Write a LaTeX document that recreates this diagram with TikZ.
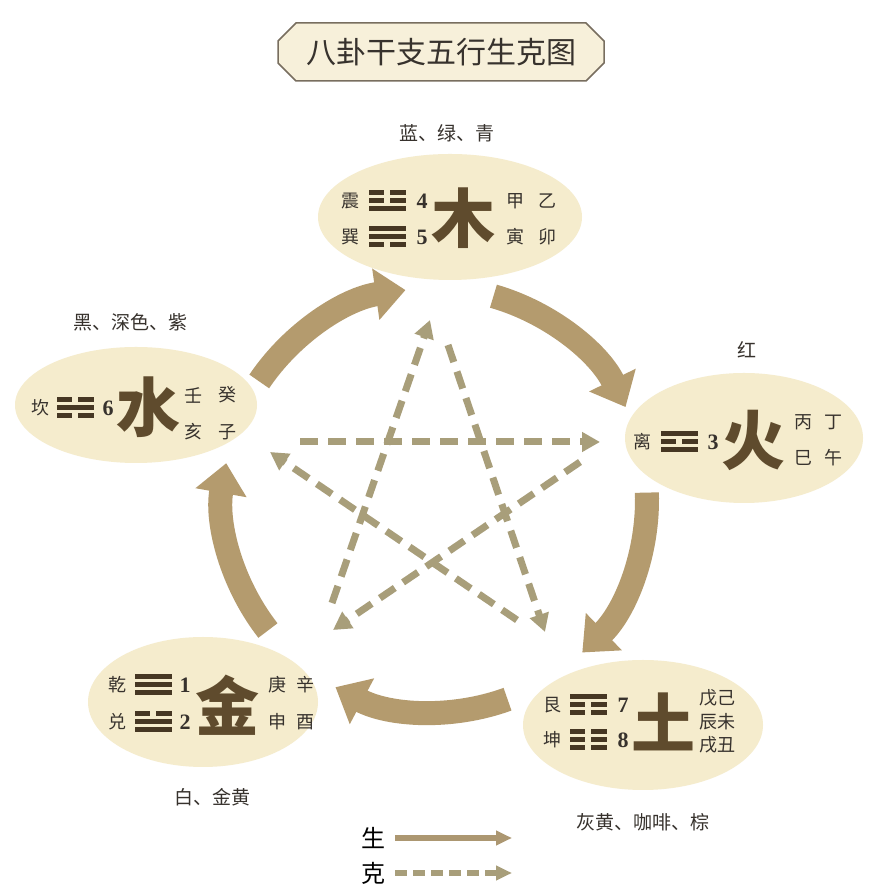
\documentclass[tikz,border=0pt]{standalone}
\usepackage{fontspec}
\setmainfont{Liberation Serif}
\newfontfamily\cjk{Noto Sans CJK SC}
\usetikzlibrary{arrows.meta,shapes.geometric,shapes.misc}

\definecolor{shengcol}{RGB}{180,155,110}
\definecolor{kecol}{RGB}{168,158,122}
\definecolor{cream}{RGB}{245,236,205}
\definecolor{guacol}{RGB}{70,55,35}
\definecolor{inkcol}{RGB}{55,50,45}
\definecolor{bigcol}{RGB}{95,75,45}

\newcommand{\fs}[1]{\fontsize{#1}{#1}\selectfont}
% trigram: x, y, bars from top (1 = solid, 0 = broken)
\newcommand{\gua}[3]{%
  \foreach \b [count=\i] in {#3} {
    \pgfmathsetmacro{\yy}{#2+16-8*\i}
    \ifnum\b=1
      \fill[guacol] (#1-18.5,\yy-2.5) rectangle (#1+18.5,\yy+2.5);
    \else
      \fill[guacol] (#1-18.5,\yy-2.5) rectangle (#1-3,\yy+2.5);
      \fill[guacol] (#1+3,\yy-2.5) rectangle (#1+18.5,\yy+2.5);
    \fi
  }}

\tikzset{
  element/.style={ellipse, fill=cream, inner sep=0pt},
  branch/.style={text=inkcol, inner sep=1pt, font=\cjk\fs{18}},
  bigchar/.style={text=bigcol, inner sep=1pt, font=\cjk\bfseries\fs{64}},
  guanum/.style={text=inkcol, inner sep=1pt, font=\bfseries\fs{22}},
  colourlabel/.style={text=inkcol, font=\cjk\fs{19}},
  sheng/.style={shengcol, line width=24pt, -{Triangle[length=30pt,width=50pt]}},
  ke/.style={kecol, line width=7pt, dash pattern=on 18pt off 10pt, -{Triangle[length=18pt,width=19pt]}}
}

\begin{document}
\begin{tikzpicture}[x=1pt, y=1pt]
  \fill[white] (0,0) rectangle (872,896);
  \useasboundingbox (0,0) rectangle (872,896);

  % title
  \node[chamfered rectangle, chamfered rectangle xsep=9pt, chamfered rectangle ysep=9pt,
        draw={rgb,255:red,120;green,110;blue,95}, line width=1.5pt,
        fill={rgb,255:red,247;green,240;blue,218},
        minimum width=326pt, minimum height=58pt, inner sep=0pt,
        text=inkcol, font=\cjk\fs{30}] (title) at (441,844) {八卦干支五行生克图};

  % the five elements
  \node[element, minimum width=264pt, minimum height=126pt] (mu) at (450,679) {};
  \node[element, minimum width=242pt, minimum height=116pt] (shui) at (136,491) {};
  \node[element, minimum width=238pt, minimum height=130pt] (huo) at (744,458) {};
  \node[element, minimum width=230pt, minimum height=130pt] (jin) at (203,194) {};
  \node[element, minimum width=240pt, minimum height=130pt] (tu) at (643,171) {};

  % sheng: thick arcs round the circle
  \coordinate (c) at (435,396);
  \foreach \a in {146,74,2,-70,-142}
    \draw[sheng] (c) ++(\a:212pt) arc[start angle=\a, end angle=\a-48, radius=212pt];

  % ke: dashed star
  \coordinate (shuiA) at (300,454);  \coordinate (huoA) at (600,454);
  \coordinate (tuA) at (517,276);    \coordinate (shuiB) at (270,444);
  \coordinate (huoB) at (580,434);   \coordinate (jinA) at (333,266);
  \coordinate (jinB) at (332,293);   \coordinate (muA) at (430,576);
  \coordinate (muB) at (448,551);    \coordinate (tuB) at (545,264);
  \draw[ke] (shuiA) -- (huoA);
  \draw[ke] (tuA) -- (shuiB);
  \draw[ke] (huoB) -- (jinA);
  \draw[ke] (jinB) -- (muA);
  \draw[ke] (muB) -- (tuB);

  % mu
  \node[colourlabel] (mucol) at (447,763) {蓝、绿、青};
  \node[branch] (zhen) at (350,695) {震};
  \node[branch] (xun) at (350,659) {巽};
  \gua{387}{695}{0,0,1}
  \gua{387}{659}{1,1,0}
  \node[guanum] (n4) at (422,695) {4};
  \node[guanum] (n5) at (422,659) {5};
  \node[bigchar] (muchar) at (463,678) {木};
  \node[branch] (jia) at (515,695) {甲};
  \node[branch] (yi) at (547,695) {乙};
  \node[branch] (yin) at (515,659) {寅};
  \node[branch] (mao) at (547,659) {卯};

  % shui
  \node[colourlabel] (shuicol) at (130,574) {黑、深色、紫};
  \node[branch] (kan) at (40,488) {坎};
  \gua{75}{488}{0,1,0}
  \node[guanum] (n6) at (108,488) {6};
  \node[bigchar] (shuichar) at (148,489) {水};
  \node[branch] (ren) at (193,501) {壬};
  \node[branch] (gui) at (227,501) {癸};
  \node[branch] (hai) at (193,464) {亥};
  \node[branch] (zi) at (227,464) {子};

  % huo
  \node[colourlabel] (huocol) at (747,546) {红};
  \node[branch] (li) at (642,454) {离};
  \gua{679}{454}{1,0,1}
  \node[guanum] (n3) at (713,454) {3};
  \node[bigchar] (huochar) at (753,456) {火};
  \node[branch] (bing) at (803,474) {丙};
  \node[branch] (ding) at (833,474) {丁};
  \node[branch] (si) at (803,438) {巳};
  \node[branch] (wu) at (833,438) {午};

  % jin
  \node[colourlabel] (jincol) at (212,99) {白、金黄};
  \node[branch] (qian) at (117,211) {乾};
  \node[branch] (dui) at (117,174) {兑};
  \gua{153}{211}{1,1,1}
  \gua{153}{174}{0,1,1}
  \node[guanum] (n1) at (185,211) {1};
  \node[guanum] (n2) at (185,174) {2};
  \node[bigchar] (jinchar) at (227,191) {金};
  \node[branch] (geng) at (277,211) {庚};
  \node[branch] (xin) at (305,211) {辛};
  \node[branch] (shen) at (277,174) {申};
  \node[branch] (you) at (305,174) {酉};

  % tu
  \node[colourlabel] (tucol) at (643,74) {灰黄、咖啡、棕};
  \node[branch] (gen) at (552,191) {艮};
  \node[branch] (kun) at (552,156) {坤};
  \gua{588}{191}{1,0,0}
  \gua{588}{156}{0,0,0}
  \node[guanum] (n7) at (623,191) {7};
  \node[guanum] (n8) at (623,156) {8};
  \node[bigchar] (tuchar) at (663,174) {土};
  \node[branch] (wuji) at (717,198) {戊己};
  \node[branch] (chenwei) at (717,174) {辰未};
  \node[branch] (xuchou) at (717,151) {戌丑};

  % legend
  \node[text=black, font=\cjk\fs{24}] (lsheng) at (373,58) {生};
  \node[text=black, font=\cjk\fs{24}] (lke) at (373,23) {克};
  \coordinate (lshengA) at (395,58);  \coordinate (lshengB) at (512,58);
  \coordinate (lkeA) at (395,23);     \coordinate (lkeB) at (512,23);
  \draw[shengcol!85!gray, line width=6pt, -{Triangle[length=16pt,width=14pt]}] (lshengA) -- (lshengB);
  \draw[kecol, line width=6pt, dash pattern=on 12pt off 6pt, -{Triangle[length=16pt,width=14pt]}] (lkeA) -- (lkeB);
\end{tikzpicture}
\end{document}
